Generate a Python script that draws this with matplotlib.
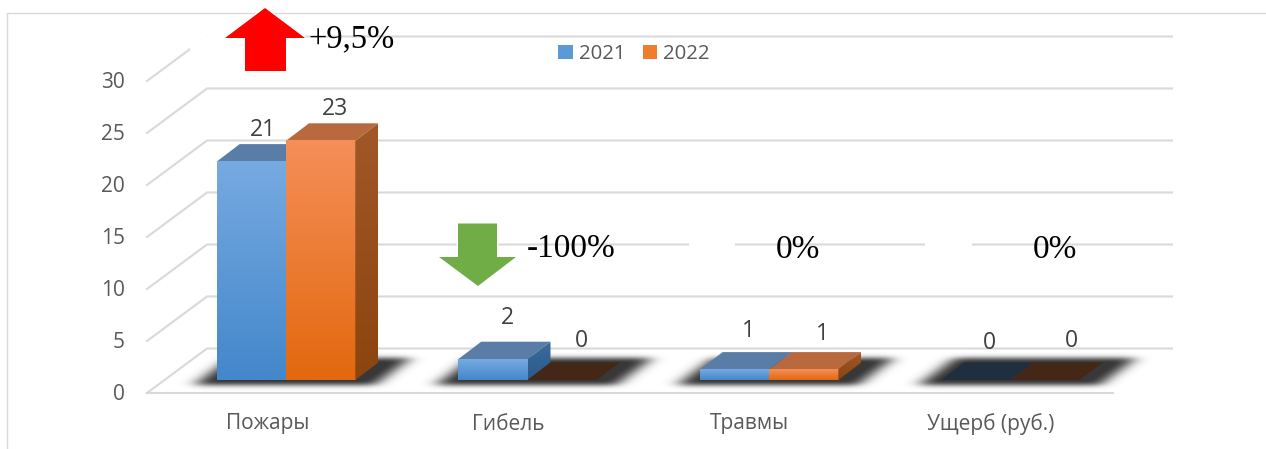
import numpy as np
import matplotlib
matplotlib.use("Agg")
import matplotlib.pyplot as plt
from matplotlib.patches import Patch, Polygon, Rectangle

categories = ["Пожары", "Гибель", "Травмы", "Ущерб (руб.)"]
series_names = ["2021", "2022"]
values_2021 = [21, 2, 1, 0]
values_2022 = [23, 0, 1, 0]
ticks = [0, 5, 10, 15, 20, 25, 30]

# pixel scale of the picture
W, H = 1266, 449
PX_CAT = 241.5   # px per category
PX_VAL = 10.4    # px per unit
X_ZERO = 286     # px of first category centre
Y_ZERO = 380     # px of value 0 at the bar front
BAR_W = 69.3 / PX_CAT
DX = 23 / PX_CAT
DY = 17.5 / PX_VAL

FRONT = [("#76AAE1", "#4487CB"), ("#F58F58", "#E3680F")]
SIDE = [("#3A6C9E", "#2C5A8A"), ("#A05828", "#8C450E")]
TOP = ["#5A7DA8", "#B8693E"]
TOP_EMPTY = ["#1F2F3F", "#452717"]
LEGEND_C = ["#5B9BD5", "#F07C2E"]
LABEL_PX = [[(263, 130), (507, 318), (748, 331), (989, 343)],
            [(335, 109), (581, 341), (822, 334), (1071, 341)]]

plt.rcParams["font.family"] = ["Open Sans", "DejaVu Sans"]
SERIF = ["Liberation Serif", "DejaVu Serif"]


def X(px):
    return (px - X_ZERO) / PX_CAT


def Y(px):
    return (Y_ZERO - px) / PX_VAL


def P(points):
    return [(X(a), Y(b)) for a, b in points]


def gradient(ax, extent, c1, c2, clip=None, z=4):
    a = np.array(matplotlib.colors.to_rgb(c1))
    b = np.array(matplotlib.colors.to_rgb(c2))
    t = np.linspace(0, 1, 64)[:, None, None]
    img = a[None, None, :] * (1 - t) + b[None, None, :] * t
    im = ax.imshow(img, extent=extent, aspect="auto", zorder=z, interpolation="bilinear")
    if clip is not None:
        im.set_clip_path(clip)


def draw_shadow(ax, left_px, right_px):
    # floor shadow: a sheared box blurred with a gaussian kernel
    l, r = int(left_px - 70), int(right_px + 100)
    t, b = 335, 405
    xx, yy = np.meshgrid(np.arange(l, r), np.arange(t, b))
    shift = (385 - yy) * 1.35
    mask = ((yy > 357) & (yy < 385) & (xx - shift > left_px - 24) & (xx - shift < right_px + 18)).astype(float)
    kx = np.exp(-0.5 * (np.arange(-24, 25) / 8.0) ** 2)
    ky = np.exp(-0.5 * (np.arange(-24, 25) / 2.5) ** 2)
    kx /= kx.sum()
    ky /= ky.sum()
    mask = np.apply_along_axis(lambda m: np.convolve(m, kx, mode="same"), 1, mask)
    mask = np.apply_along_axis(lambda m: np.convolve(m, ky, mode="same"), 0, mask)
    img = np.zeros(mask.shape + (4,))
    img[..., :3] = 0.22
    img[..., 3] = np.clip(mask * 1.05, 0, 1)
    ax.imshow(img, extent=(X(l), X(r), Y(b), Y(t)), aspect="auto", zorder=2, interpolation="bilinear")


def draw_bar(ax, x0, h, s):
    x1 = x0 + BAR_W
    top = [(x0, h), (x1, h), (x1 + DX, h + DY), (x0 + DX, h + DY)]
    color = TOP[s] if h > 0 else TOP_EMPTY[s]
    ax.add_patch(Polygon(top, closed=True, fc=color, ec="none", zorder=4 + s))
    if h <= 0:
        return
    gradient(ax, (x0, x1, 0, h), FRONT[s][0], FRONT[s][1], z=4 + s)
    side = Polygon([(x1, 0), (x1 + DX, DY), (x1 + DX, h + DY), (x1, h)], closed=True, fc="none", ec="none")
    ax.add_patch(side)
    gradient(ax, (x1, x1 + DX, 0, h + DY), SIDE[s][0], SIDE[s][1], clip=side, z=4 + s)


def draw_arrow(ax, tip, wing_y, wings, shaft, end_y, color):
    pts = [tip, (wings[1], wing_y), (shaft[1], wing_y), (shaft[1], end_y),
           (shaft[0], end_y), (shaft[0], wing_y), (wings[0], wing_y)]
    ax.add_patch(Polygon(P(pts), closed=True, fc="white", ec="white", lw=2, zorder=6.5))
    ax.add_patch(Polygon(P(pts), closed=True, fc=color, ec="none", zorder=7))


def main():
    fig = plt.figure(figsize=(W / 100, H / 100), dpi=100)
    ax = fig.add_axes([0, 0, 1, 1])
    ax.axis("off")
    grid_c = "#d9d9d9"

    # outer frame
    ax.plot([X(7), X(7), X(W)], [Y(H), Y(13), Y(13)], color=grid_c, lw=1.0, zorder=1)

    # floor and wall grid
    for v in ticks:
        front_y = 393 - v * PX_VAL
        back_y = front_y - 44.5
        ax.plot([X(147), X(207), X(1172)], [Y(front_y), Y(back_y), Y(back_y)],
                color=grid_c, lw=1.5, zorder=1, solid_joinstyle="miter")
        ax.text(X(125), Y(front_y + 1.5), str(v), ha="right", va="center", fontsize=15, color="#595959")
    ax.plot([X(147), X(1113)], [Y(393), Y(393)], color=grid_c, lw=1.5, zorder=1)

    # white text boxes that cut the grid
    for a, b, c, d in [(689, 735, 225, 270), (925, 972, 225, 270), (207, 226, 20, 50), (190, 207, 36, 52)]:
        ax.add_patch(Rectangle((X(a), Y(d)), X(b) - X(a), Y(c) - Y(d), fc="white", ec="none", zorder=1.5))

    for i, (a, b) in enumerate(zip(values_2021, values_2022)):
        x0 = i - BAR_W
        left_px = X_ZERO + x0 * PX_CAT
        draw_shadow(ax, left_px, left_px + 2 * BAR_W * PX_CAT)
        draw_bar(ax, x0, a, 0)
        draw_bar(ax, x0 + BAR_W, b, 1)

    # data labels
    for s, vals in enumerate([values_2021, values_2022]):
        for v, (px, py) in zip(vals, LABEL_PX[s]):
            ax.text(X(px), Y(py), str(v), ha="center", va="center", fontsize=16.5, color="#404040", zorder=8)

    # category labels
    for name, px in zip(categories, [267.5, 508.5, 749.5, 991]):
        ax.text(X(px), Y(424), name, ha="center", va="center", fontsize=15, color="#595959")

    draw_arrow(ax, (265, 8), 38, (225, 305), (245, 286), 71, "#FF0000")
    draw_arrow(ax, (478, 286), 257, (439, 516), (458, 497), 223.5, "#70AD47")

    for txt, fs, px, py in [("+9,5%", 23.5, 351, 39), ("-100%", 24, 571, 249), ("0%", 24, 798, 250), ("0%", 24, 1055, 250)]:
        ax.text(X(px), Y(py), txt, ha="center", va="center", fontsize=fs, family=SERIF, color="black", zorder=9)

    handles = [Patch(fc=LEGEND_C[0], ec="none"), Patch(fc=LEGEND_C[1], ec="none")]
    leg = ax.legend(handles, series_names, loc="center", bbox_to_anchor=(634 / W, 1 - 54 / H),
                    bbox_transform=fig.transFigure, ncol=2, frameon=False, fontsize=14.7,
                    handlelength=0.7, handleheight=0.7, handletextpad=0.3, columnspacing=0.85,
                    labelcolor="#595959")
    leg.set_zorder(9)

    ax.set_xlim(X(0), X(W))
    ax.set_ylim(Y(H), Y(0))
    fig.savefig("out.png", dpi=100)
    plt.close(fig)


if __name__ == "__main__":
    main()
